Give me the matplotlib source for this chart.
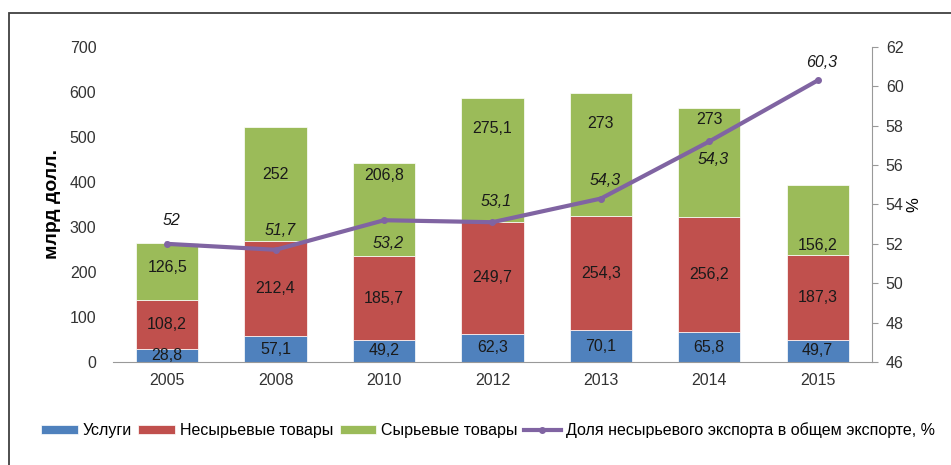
import numpy as np
import matplotlib
matplotlib.use("Agg")
import matplotlib.pyplot as plt
from matplotlib.patches import Rectangle

plt.rcParams['font.family'] = ['Liberation Sans', 'DejaVu Sans']

years = ['2005', '2008', '2010', '2012', '2013', '2014', '2015']
services = [28.8, 57.1, 49.2, 62.3, 70.1, 65.8, 49.7]
non_raw = [108.2, 212.4, 185.7, 249.7, 254.3, 256.2, 187.3]
raw = [126.5, 252, 206.8, 275.1, 273, 241.5, 156.2]
raw_labels = ['126,5', '252', '206,8', '275,1', '273', '273', '156,2']
share = [52.0, 51.7, 53.2, 53.1, 54.3, 57.2, 60.3]
share_labels = ['52', '51,7', '53,2', '53,1', '54,3', '54,3', '60,3']

# label placement tweaks (the original labels were moved by hand)
raw_label_shift = [9, 22, 75, 70, 68, 97, -57]
share_label_dy = [17, 14, -17, 15, 13, -13, 13]

c_blue = '#4F81BD'
c_red = '#C0504D'
c_green = '#9BBB59'
c_purple = '#8064A2'

FS = 11.5


def fmt(v):
    return f"{v:g}".replace('.', ',')


def main():
    fig = plt.figure(figsize=(9.51, 4.65), dpi=100)
    ax = fig.add_axes([0.1188, 0.2215, 0.798, 0.6775])
    x = np.arange(len(years))
    w = 0.575

    s = np.array(services)
    n = np.array(non_raw)
    r = np.array(raw)

    b1 = ax.bar(x, s, w, color=c_blue, edgecolor='white', linewidth=0.5, label='Услуги')
    b2 = ax.bar(x, n, w, bottom=s, color=c_red, edgecolor='white', linewidth=0.5,
                label='Несырьевые товары')
    b3 = ax.bar(x, r, w, bottom=s + n, color=c_green, edgecolor='white', linewidth=0.5,
                label='Сырьевые товары')

    for i in range(len(years)):
        ax.text(x[i], s[i] / 2, fmt(s[i]), ha='center', va='center', fontsize=FS, color='#1a1a1a')
        ax.text(x[i], s[i] + n[i] / 2, fmt(n[i]), ha='center', va='center', fontsize=FS,
                color='#1a1a1a')
        ax.text(x[i], s[i] + n[i] + r[i] / 2 + raw_label_shift[i], raw_labels[i],
                ha='center', va='center', fontsize=FS, color='#1a1a1a')

    ax.set_xlim(-0.5, len(years) - 0.5)
    ax.set_ylim(0, 700)
    ax.set_yticks(range(0, 701, 100))
    ax.set_xticks(x)
    ax.set_xticklabels(years)
    ax.tick_params(axis='y', length=0, pad=12, labelsize=FS, labelcolor='#333333')
    ax.tick_params(axis='x', length=0, pad=8, labelsize=FS, labelcolor='#333333')
    for sp in ['left', 'top', 'right']:
        ax.spines[sp].set_visible(False)
    ax.spines['bottom'].set_color('#999999')
    ax.set_ylabel('млрд долл.', fontsize=14, fontweight='bold', labelpad=6)

    ax2 = ax.twinx()
    ln, = ax2.plot(x, share, color=c_purple, lw=3, marker='o', ms=4,
                   label='Доля несырьевого экспорта в общем экспорте, %')
    for i in range(len(years)):
        ax2.annotate(share_labels[i], (x[i], share[i]), xytext=(3, share_label_dy[i]),
                     textcoords='offset points', ha='center', va='center',
                     fontsize=FS, style='italic', color='#1a1a1a')
    ax2.set_ylim(46, 62)
    ax2.set_yticks(range(46, 63, 2))
    ax2.tick_params(axis='y', length=4, color='#999999', pad=6, labelsize=FS,
                    labelcolor='#333333')
    for sp in ['left', 'top', 'bottom']:
        ax2.spines[sp].set_visible(False)
    ax2.spines['right'].set_color('#999999')
    ax2.set_ylabel('%', fontsize=12, labelpad=2)

    fig.legend(handles=[b1, b2, b3, ln], loc='center', bbox_to_anchor=(0.513, 0.075),
               ncol=4, frameon=False, fontsize=FS, handlelength=2.3, handleheight=0.45,
               handletextpad=0.3, columnspacing=0.4)

    fig.patches.append(Rectangle((0.0095, -0.02), 1.0, 0.992, transform=fig.transFigure,
                                 fill=False, edgecolor='#404040', linewidth=1.3))

    fig.savefig('out.png', dpi=100)
    plt.close()


if __name__ == "__main__":
    main()
